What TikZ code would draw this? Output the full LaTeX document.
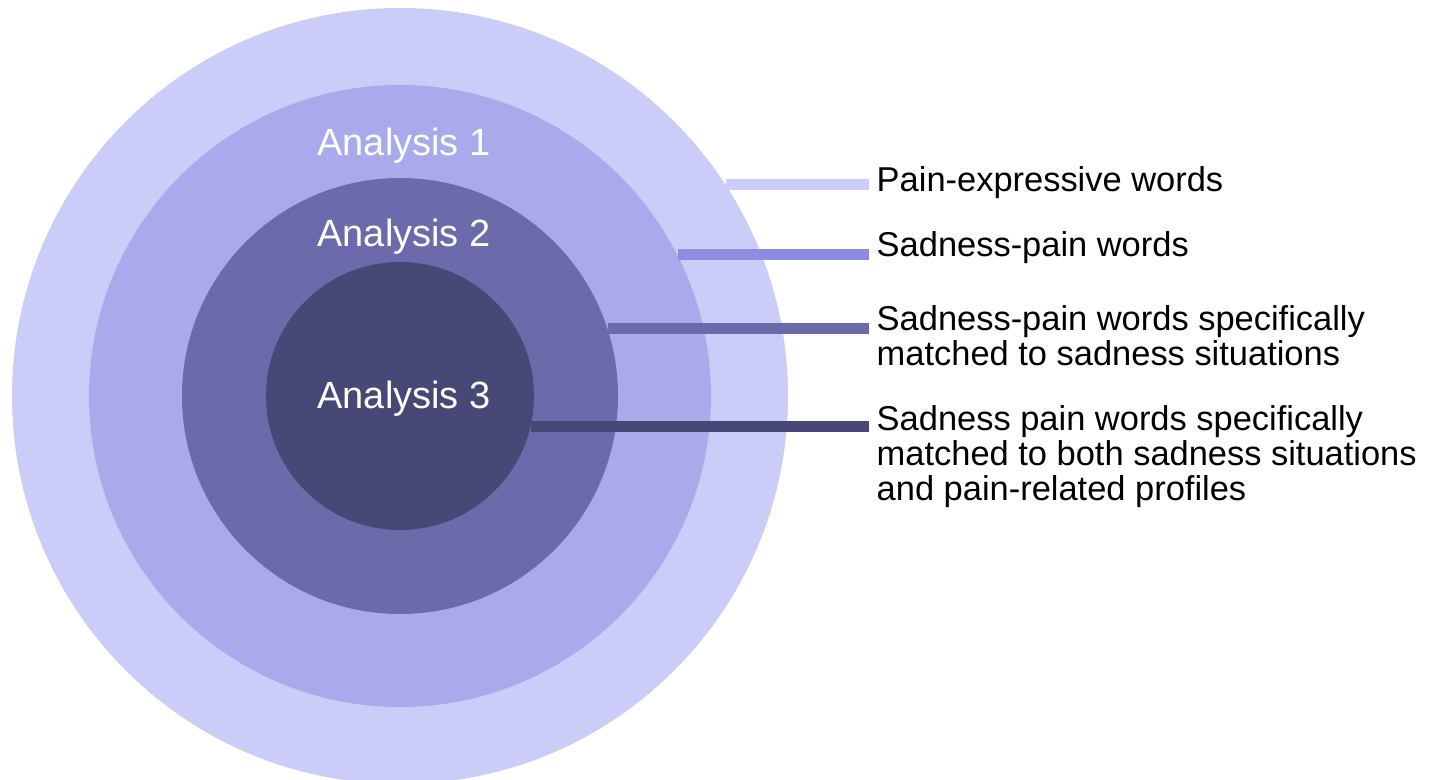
\documentclass[tikz,border=0pt]{standalone}
\usepackage{fontspec}
\setmainfont{Liberation Sans}
\usepackage{xcolor}
\usepackage{tikz}
\usetikzlibrary{positioning,calc}

\definecolor{ringA}{HTML}{CCCCF8}
\definecolor{ringB}{HTML}{A9A9EB}
\definecolor{ringC}{HTML}{6C6AAA}
\definecolor{ringD}{HTML}{484876}
\definecolor{leadB}{HTML}{8C8CE3}

\begin{document}
\begin{tikzpicture}[
  ring/.style={circle, draw=none, inner sep=0pt, minimum size=#1},
  tag/.style={text=white, anchor=base, inner sep=0pt, font=\fontsize{10.8}{13}\selectfont},
  lbl/.style={anchor=base west, align=left, inner xsep=2pt, inner ysep=0pt, font=\fontsize{9.8}{9.95}\selectfont},
  lead/.style={line width=3pt}
]
\useasboundingbox (0,0) rectangle (14.41,-7.80);

% Nested rings
\node[ring=7.76cm, fill=ringA] (r1) at (4.00,-3.96) {};
\node[ring=6.22cm, fill=ringB] (r2) at (4.00,-3.96) {};
\node[ring=4.36cm, fill=ringC] (r3) at (4.00,-3.96) {};
\node[ring=2.68cm, fill=ringD] (r4) at (4.00,-3.96) {};

% Ring titles
\node[tag] (a1) at (4.04,-1.56) {Analysis 1};
\node[tag] (a2) at (4.04,-2.47) {Analysis 2};
\node[tag] (a3) at (4.04,-4.09) {Analysis 3};

% Legend texts (base = last line)
\node[lbl] (lab1) at (8.69,-1.92) {Pain-expressive words};
\node[lbl] (lab2) at (8.69,-2.57) {Sadness-pain words};
\node[lbl] (lab3) at (8.69,-3.65) {Sadness-pain words specifically\\matched to sadness situations};
\node[lbl] (lab4) at (8.69,-5.00) {Sadness pain words specifically\\matched to both sadness situations\\and pain-related profiles};

% Leader lines
\draw[lead, ringA] (r1.33.6) -- (r1.33.6 -| lab1.west);
\draw[lead, leadB] (r2.27.8) -- (r2.27.8 -| lab2.west);
\draw[lead, ringC] (r3.18.6) -- (r3.18.6 -| lab3.west);
\draw[lead, ringD] (r4.-13.2) -- (r4.-13.2 -| lab4.west);

\end{tikzpicture}
\end{document}
